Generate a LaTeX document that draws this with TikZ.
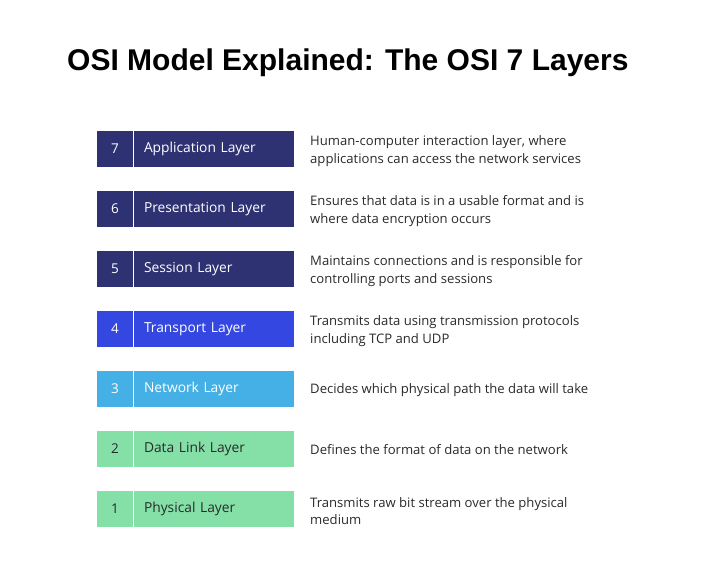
\documentclass[tikz,border=0pt]{standalone}
\usepackage{fontspec}
\setmainfont{Open Sans}
\newfontfamily\titlefont{Liberation Sans}
\definecolor{navy}{HTML}{2E3272}
\definecolor{royal}{HTML}{3447E0}
\definecolor{sky}{HTML}{45B0E5}
\definecolor{mint}{HTML}{85E0A8}
\definecolor{darktext}{HTML}{2A2A2A}
\tikzset{
  numbox/.style={rectangle, inner sep=0pt, minimum width=36pt, minimum height=36pt, font=\fontsize{13.5}{16}\selectfont},
  labbox/.style={rectangle, inner sep=0pt, minimum width=160pt, minimum height=36pt, text width=140pt, align=left, font=\fontsize{13.8}{16}\selectfont},
  desc/.style={anchor=west, inner sep=0pt, align=left, text=darktext, font=\fontsize{13.1}{17.5}\selectfont}
}
\begin{document}
\begin{tikzpicture}[x=1pt,y=-1pt]
\useasboundingbox[fill=white] (0,0) rectangle (703,570);
\node[anchor=west, inner sep=0pt, font=\titlefont\bfseries\fontsize{30}{34}\selectfont] (title) at (67,63) {OSI Model Explained: The OSI 7 Layers};
% layer 7
\node[numbox, fill=navy, text=white] (n7) at (115,149) {7};
\node[labbox, fill=navy, text=white] (l7) at (214,149) {Application Layer};
\node[desc] (d7) at (310,151) {Human-computer interaction layer, where\\applications can access the network services};
% layer 6
\node[numbox, fill=navy, text=white] (n6) at (115,209) {6};
\node[labbox, fill=navy, text=white] (l6) at (214,209) {Presentation Layer};
\node[desc] (d6) at (310,211) {Ensures that data is in a usable format and is\\where data encryption occurs};
% layer 5
\node[numbox, fill=navy, text=white] (n5) at (115,269) {5};
\node[labbox, fill=navy, text=white] (l5) at (214,269) {Session Layer};
\node[desc] (d5) at (310,271) {Maintains connections and is responsible for\\controlling ports and sessions};
% layer 4
\node[numbox, fill=royal, text=white] (n4) at (115,329) {4};
\node[labbox, fill=royal, text=white] (l4) at (214,329) {Transport Layer};
\node[desc] (d4) at (310,331) {Transmits data using transmission protocols\\including TCP and UDP};
% layer 3
\node[numbox, fill=sky, text=white] (n3) at (115,389) {3};
\node[labbox, fill=sky, text=white] (l3) at (214,389) {Network Layer};
\node[desc] (d3) at (310,390) {Decides which physical path the data will take};
% layer 2
\node[numbox, fill=mint, text=darktext] (n2) at (115,449) {2};
\node[labbox, fill=mint, text=darktext] (l2) at (214,449) {Data Link Layer};
\node[desc] (d2) at (310,450) {Defines the format of data on the network};
% layer 1
\node[numbox, fill=mint, text=darktext] (n1) at (115,509) {1};
\node[labbox, fill=mint, text=darktext] (l1) at (214,509) {Physical Layer};
\node[desc] (d1) at (310,511) {Transmits raw bit stream over the physical\\medium};
\end{tikzpicture}
\end{document}
